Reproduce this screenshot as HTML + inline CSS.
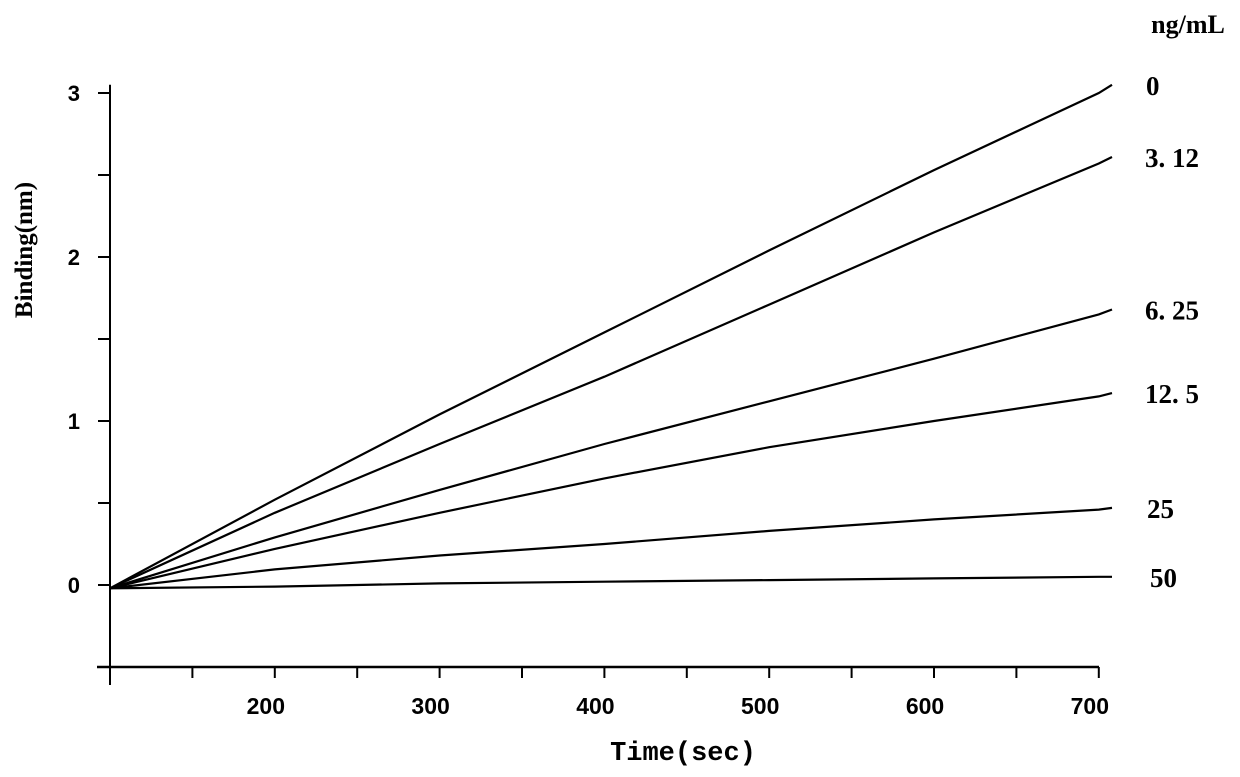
<!DOCTYPE html>
<html><head><meta charset="utf-8"><style>
html,body{margin:0;padding:0;background:#fff;}
svg{display:block;}
text{fill:#000;}
</style></head><body>
<svg id="chart" width="1240" height="777" viewBox="0 0 1240 777" xmlns="http://www.w3.org/2000/svg">
<g id="axes"></g>
<g id="series"></g>
<g id="labels"></g>
<text x="1188" y="33" font-family="Liberation Serif, serif" font-weight="bold" font-size="26" text-anchor="middle">ng/mL</text>
<text x="683" y="760" font-family="Liberation Mono, monospace" font-weight="bold" font-size="27" text-anchor="middle">Time(sec)</text>
<text transform="translate(32,250) rotate(-90)" font-family="Liberation Serif, serif" font-weight="bold" font-size="25" text-anchor="middle">Binding(nm)</text>
</svg>
<script>
const times = [100, 200, 300, 400, 500, 600, 700, 708];
const concLabels = ["0", "3. 12", "6. 25", "12. 5", "25", "50"];
const s0 = [-0.02, 0.52, 1.04, 1.54, 2.04, 2.53, 3.00, 3.05];
const s312 = [-0.02, 0.44, 0.86, 1.27, 1.71, 2.15, 2.57, 2.61];
const s625 = [-0.02, 0.29, 0.58, 0.86, 1.12, 1.38, 1.65, 1.68];
const s125 = [-0.02, 0.22, 0.44, 0.65, 0.84, 1.00, 1.15, 1.17];
const s25 = [-0.02, 0.095, 0.18, 0.25, 0.33, 0.40, 0.46, 0.47];
const s50 = [-0.02, -0.01, 0.01, 0.02, 0.03, 0.04, 0.05, 0.05];
const xTickLabels = ["200", "300", "400", "500", "600", "700"];
const yTickLabels = ["0", "1", "2", "3"];

const NS = "http://www.w3.org/2000/svg";
function X(t){ return 110 + (t - 100) * 1.648; }
function Y(v){ return 585 - v * 164; }
function mk(tag, attrs, parent){
  const e = document.createElementNS(NS, tag);
  for (const k in attrs) e.setAttribute(k, attrs[k]);
  parent.appendChild(e); return e;
}
const axes = document.getElementById('axes');
let el = mk('line', {x1:110, y1:Y(3.05), x2:110, y2:685, stroke:'#000','stroke-width':2}, axes);


el = mk('line', {x1:97, y1:667, x2:1099, y2:667, stroke:'#000','stroke-width':2.5}, axes);


for (let v = -0.5; v <= 3.001; v += 0.5){
  const t = mk('line', {x1:98, y1:Y(v), x2:110, y2:Y(v), stroke:'#000','stroke-width':2}, axes);
  
  
}
yTickLabels.forEach(s => {
  const t = mk('text', {x:80, y:Y(+s)+8, 'text-anchor':'end', 'font-family':'Liberation Sans, sans-serif', 'font-weight':'bold', 'font-size':22}, axes);
  t.textContent = s;
  
  
});
for (let tm = 100; tm <= 700; tm += 50){
  const t = mk('line', {x1:X(tm), y1:667, x2:X(tm), y2:678, stroke:'#000','stroke-width':2}, axes);
  
  
}
xTickLabels.forEach(s => {
  const t = mk('text', {x:X(+s)-9, y:714, 'text-anchor':'middle', 'font-family':'Liberation Sans, sans-serif', 'font-weight':'bold', 'font-size':23}, axes);
  t.textContent = s;
  
  
});
const allSeries = [s0, s312, s625, s125, s25, s50];
const seriesNames = ['series-0', 'series-3-12', 'series-6-25', 'series-12-5', 'series-25', 'series-50'];
const lblX = [1146, 1145, 1145, 1145, 1147, 1150];
const sg = document.getElementById('series');
const lg = document.getElementById('labels');
allSeries.forEach((s, i) => {
  const pts = s.map((v, j) => X(times[j]).toFixed(1) + ',' + Y(v).toFixed(1)).join(' ');
  const p = mk('polyline', {points:pts, fill:'none', stroke:'#000', 'stroke-width':2.2}, sg);
  
  
  const last = s[s.length - 1];
  const t = mk('text', {x:lblX[i], y:Y(last)+10, 'font-family':'Liberation Serif, serif', 'font-weight':'bold', 'font-size':27}, lg);
  t.textContent = concLabels[i];
  
  
});
</script>
</body></html>
